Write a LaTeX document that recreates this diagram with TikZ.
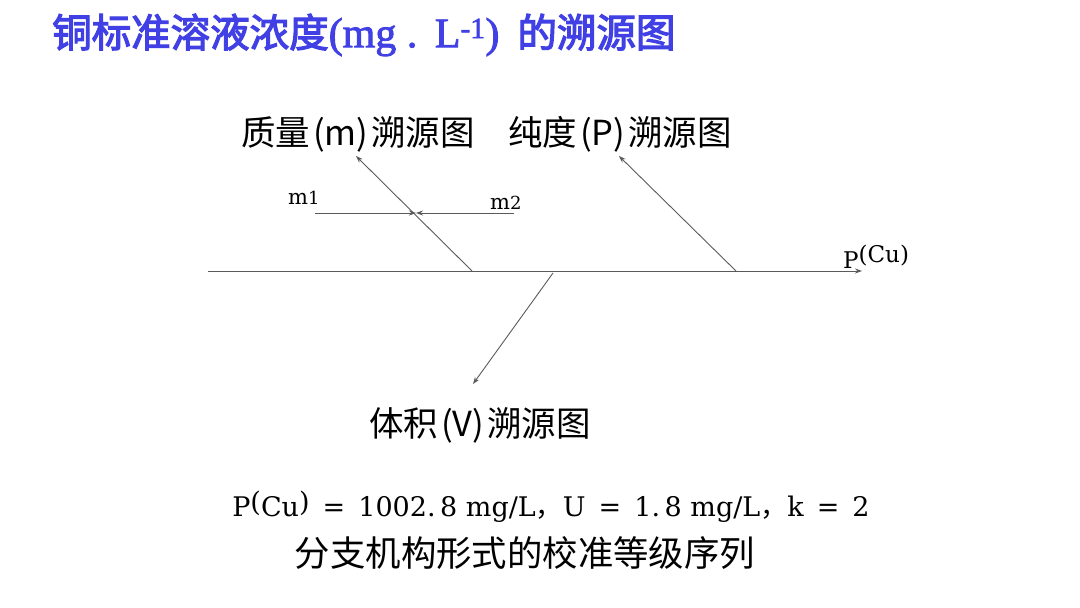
\documentclass[tikz,border=0pt]{standalone}
\usepackage{fontspec}
\setmainfont{Liberation Serif}
\newfontfamily\cjk{Noto Sans CJK SC}
\newfontfamily\cjkt[FakeBold=3]{Noto Sans CJK SC}
\newfontfamily\serift[FakeBold=2]{Liberation Serif}
\newfontfamily\dserif{DejaVu Serif}
\usetikzlibrary{arrows.meta}
\definecolor{titleblue}{RGB}{64,64,228}
\definecolor{linegray}{RGB}{90,90,90}
\newcommand{\pp}[1]{\hspace{3pt}(#1)\hspace{3pt}}
\tikzset{
  conn/.style={draw=linegray, line width=0.9pt},
  arr/.style={conn, -{Stealth[length=7pt,width=5pt]}},
  lbl/.style={inner sep=0pt, font=\cjk\fontsize{34.5}{40}\selectfont},
  small/.style={inner sep=0pt, font=\dserif\fontsize{21}{24}\selectfont},
}
\begin{document}
\begin{tikzpicture}[x=1pt,y=-1pt]
\useasboundingbox (0,0) rectangle (1080,608);
% title
\node[anchor=west, inner sep=0pt, text=titleblue] (title) at (52,35)
  {\cjkt\fontsize{39.5}{44}\selectfont 铜标准溶液浓度{\serift\fontsize{42}{46}\selectfont(mg\ .\ \,L\textsuperscript{-1})}\hspace{18pt}的溯源图};
% spine
\coordinate (s0) at (208,271);
\coordinate (s1) at (862,271);
\draw[arr] (s0) -- (s1);
\node[anchor=base west, inner sep=0pt, font=\dserif\fontsize{23}{26}\selectfont] (pcu) at (843,268) {P\raisebox{6pt}{(Cu)}};
% mass branch
\coordinate (mb) at (472,271);
\coordinate (mt) at (356,156);
\draw[arr] (mb) -- (mt);
\node[lbl] (mlbl) at (358,134) {质量\pp{m}溯源图};
\coordinate (m1s) at (315,213);
\coordinate (m2s) at (514,213);
\coordinate (mc) at (416,213);
\draw[arr] (m1s) -- (mc);
\draw[arr] (m2s) -- (mc);
\node[small, anchor=base west] (m1) at (288,204) {m\fontsize{18}{20}\selectfont 1};
\node[small, anchor=base west] (m2) at (490,209) {m\fontsize{18}{20}\selectfont 2};
% purity branch
\coordinate (pb) at (736,271);
\coordinate (pt) at (619,156);
\draw[arr] (pb) -- (pt);
\node[lbl] (plbl) at (620,134) {纯度\pp{P}溯源图};
% volume branch
\coordinate (vb) at (553,273);
\coordinate (vt) at (473,384);
\draw[arr] (vb) -- (vt);
\node[lbl] (vlbl) at (480,425) {体积\pp{V}溯源图};
% formula
\node[inner sep=0pt, font=\dserif\fontsize{27}{32}\selectfont] (formula) at (551,507)
  {P\raisebox{5pt}{(}Cu\raisebox{5pt}{)}\ \,=\ \,1002.\,8\ mg/L{\cjk ，}U\ \,=\ \,1.\,8\ mg/L{\cjk ，}k\ \,=\ \,2};
\node[lbl, font=\cjk\fontsize{35.4}{40}\selectfont] (caption) at (525,553) {分支机构形式的校准等级序列};
\end{tikzpicture}
\end{document}
